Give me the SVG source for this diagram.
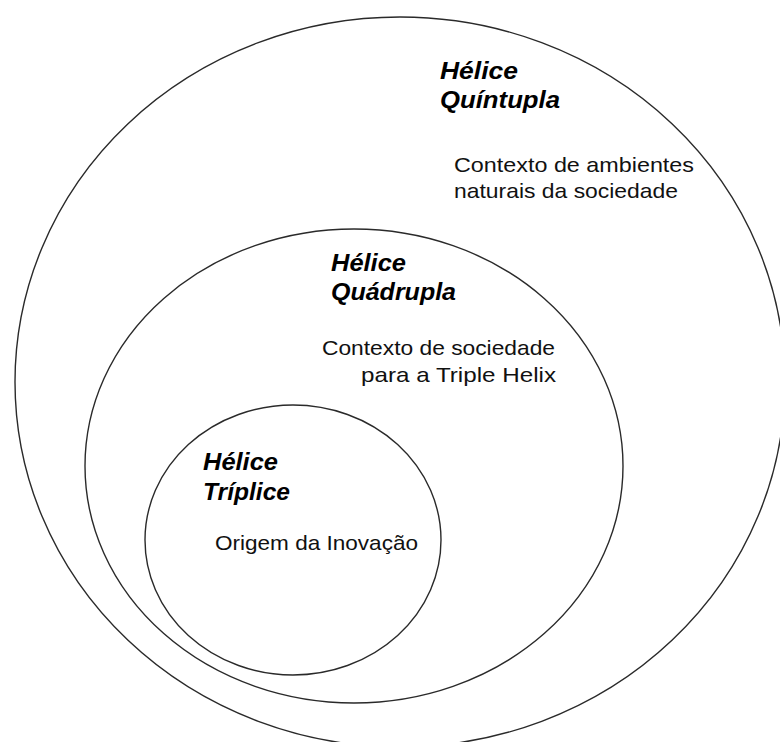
<svg xmlns="http://www.w3.org/2000/svg" width="780" height="742" viewBox="0 0 780 742">
<style>
.ring{fill:none;stroke:#2a2a2a;stroke-width:1.4}
.title{font-family:"Liberation Sans",Arial,sans-serif;font-weight:bold;font-style:italic;font-size:23.5px;fill:#000}
.body{font-family:"Liberation Sans",Arial,sans-serif;font-size:21px;fill:#111}
</style>
<rect width="780" height="742" fill="#fff"/>
<g id="quintupla">
<ellipse class="ring" cx="400" cy="382" rx="385" ry="365"/>
<text class="title" x="440" y="79" textLength="78" lengthAdjust="spacingAndGlyphs">Hélice</text>
<text class="title" x="440" y="108" textLength="120" lengthAdjust="spacingAndGlyphs">Quíntupla</text>
<text class="body" x="454" y="172" textLength="240" lengthAdjust="spacingAndGlyphs">Contexto de ambientes</text>
<text class="body" x="454" y="198" textLength="224" lengthAdjust="spacingAndGlyphs">naturais da sociedade</text>
</g>
<g id="quadrupla">
<ellipse class="ring" cx="354" cy="466" rx="269" ry="237"/>
<text class="title" x="331" y="271" textLength="75" lengthAdjust="spacingAndGlyphs">Hélice</text>
<text class="title" x="331" y="300" textLength="125" lengthAdjust="spacingAndGlyphs">Quádrupla</text>
<text class="body" x="322" y="355" textLength="233" lengthAdjust="spacingAndGlyphs">Contexto de sociedade</text>
<text class="body" x="361" y="382" textLength="195" lengthAdjust="spacingAndGlyphs">para a Triple Helix</text>
</g>
<g id="triplice">
<ellipse class="ring" cx="293" cy="540" rx="148" ry="135"/>
<text class="title" x="203" y="470" textLength="75" lengthAdjust="spacingAndGlyphs">Hélice</text>
<text class="title" x="203" y="500" textLength="87" lengthAdjust="spacingAndGlyphs">Tríplice</text>
<text class="body" x="215" y="550" textLength="203" lengthAdjust="spacingAndGlyphs">Origem da Inovação</text>
</g>
<g id="connectors"/>
</svg>
